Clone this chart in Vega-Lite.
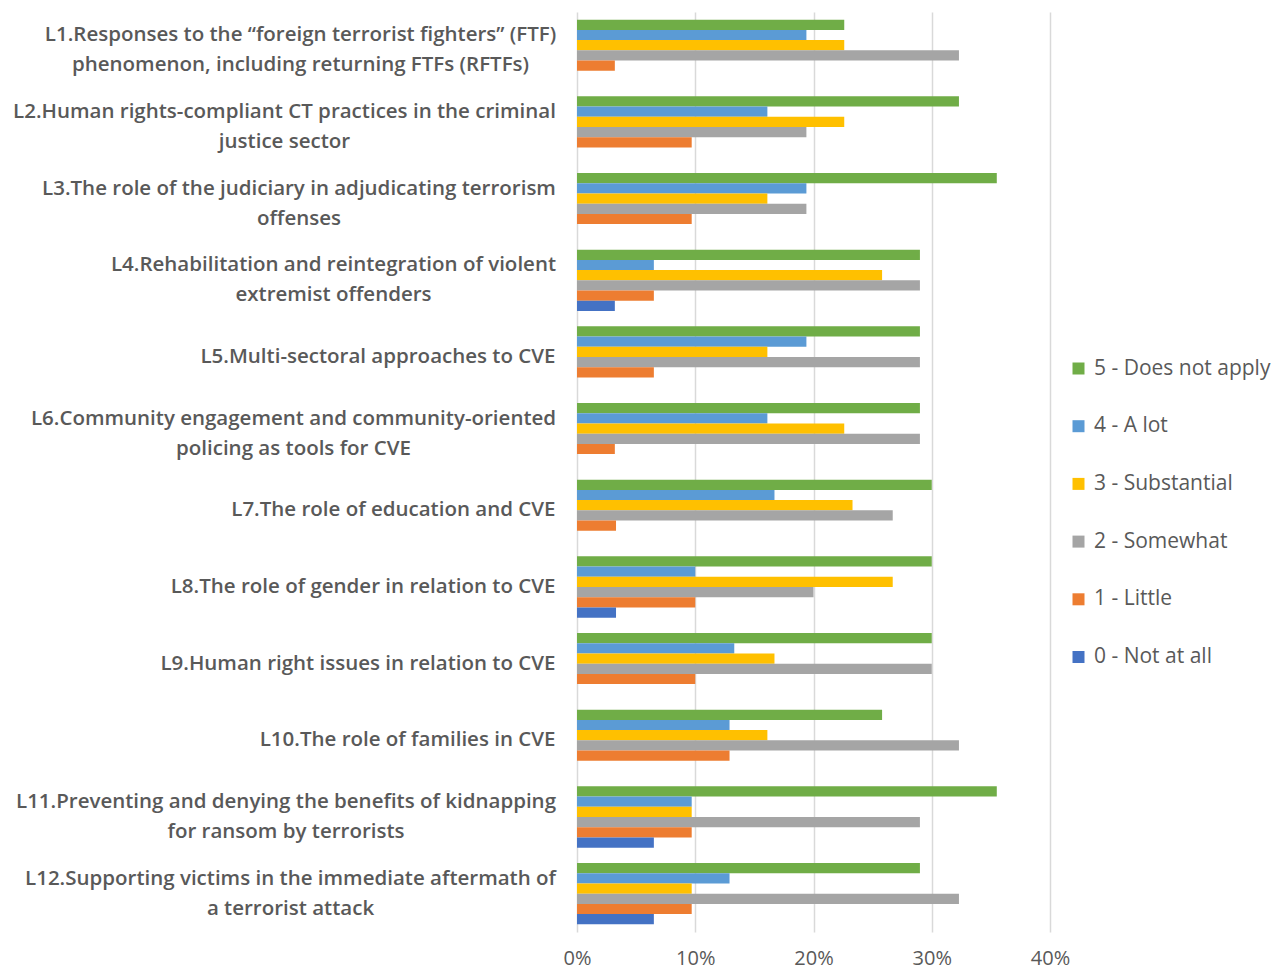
{
  "$schema": "https://vega.github.io/schema/vega-lite/v6.json",
  "width": 473,
  "height": 920,
  "autosize": {"type": "pad"},
  "padding": {"left": 5, "top": 12, "right": 5, "bottom": 0},
  "background": "white",
  "datasets": {
    "labels": [
      {"q": "L1", "label": "L1.Responses to the “foreign terrorist fighters” (FTF)\nphenomenon, including returning FTFs (RFTFs)"},
      {"q": "L2", "label": "L2.Human rights-compliant CT practices in the criminal\njustice sector"},
      {"q": "L3", "label": "L3.The role of the judiciary in adjudicating terrorism\noffenses"},
      {"q": "L4", "label": "L4.Rehabilitation and reintegration of violent\nextremist offenders"},
      {"q": "L5", "label": "L5.Multi-sectoral approaches to CVE"},
      {"q": "L6", "label": "L6.Community engagement and community-oriented\npolicing as tools for CVE"},
      {"q": "L7", "label": "L7.The role of education and CVE"},
      {"q": "L8", "label": "L8.The role of gender in relation to CVE"},
      {"q": "L9", "label": "L9.Human right issues in relation to CVE"},
      {"q": "L10", "label": "L10.The role of families in CVE"},
      {"q": "L11", "label": "L11.Preventing and denying the benefits of kidnapping\nfor ransom by terrorists"},
      {"q": "L12", "label": "L12.Supporting victims in the immediate aftermath of\na terrorist attack"}
    ],
    "answers": [
      {"q": "L1", "level": "5 - Does not apply", "share": 0.226},
      {"q": "L1", "level": "4 - A lot", "share": 0.194},
      {"q": "L1", "level": "3 - Substantial", "share": 0.226},
      {"q": "L1", "level": "2 - Somewhat", "share": 0.323},
      {"q": "L1", "level": "1 - Little", "share": 0.032},
      {"q": "L2", "level": "5 - Does not apply", "share": 0.323},
      {"q": "L2", "level": "4 - A lot", "share": 0.161},
      {"q": "L2", "level": "3 - Substantial", "share": 0.226},
      {"q": "L2", "level": "2 - Somewhat", "share": 0.194},
      {"q": "L2", "level": "1 - Little", "share": 0.097},
      {"q": "L3", "level": "5 - Does not apply", "share": 0.355},
      {"q": "L3", "level": "4 - A lot", "share": 0.194},
      {"q": "L3", "level": "3 - Substantial", "share": 0.161},
      {"q": "L3", "level": "2 - Somewhat", "share": 0.194},
      {"q": "L3", "level": "1 - Little", "share": 0.097},
      {"q": "L4", "level": "5 - Does not apply", "share": 0.29},
      {"q": "L4", "level": "4 - A lot", "share": 0.065},
      {"q": "L4", "level": "3 - Substantial", "share": 0.258},
      {"q": "L4", "level": "2 - Somewhat", "share": 0.29},
      {"q": "L4", "level": "1 - Little", "share": 0.065},
      {"q": "L4", "level": "0 - Not at all", "share": 0.032},
      {"q": "L5", "level": "5 - Does not apply", "share": 0.29},
      {"q": "L5", "level": "4 - A lot", "share": 0.194},
      {"q": "L5", "level": "3 - Substantial", "share": 0.161},
      {"q": "L5", "level": "2 - Somewhat", "share": 0.29},
      {"q": "L5", "level": "1 - Little", "share": 0.065},
      {"q": "L6", "level": "5 - Does not apply", "share": 0.29},
      {"q": "L6", "level": "4 - A lot", "share": 0.161},
      {"q": "L6", "level": "3 - Substantial", "share": 0.226},
      {"q": "L6", "level": "2 - Somewhat", "share": 0.29},
      {"q": "L6", "level": "1 - Little", "share": 0.032},
      {"q": "L7", "level": "5 - Does not apply", "share": 0.3},
      {"q": "L7", "level": "4 - A lot", "share": 0.167},
      {"q": "L7", "level": "3 - Substantial", "share": 0.233},
      {"q": "L7", "level": "2 - Somewhat", "share": 0.267},
      {"q": "L7", "level": "1 - Little", "share": 0.033},
      {"q": "L8", "level": "5 - Does not apply", "share": 0.3},
      {"q": "L8", "level": "4 - A lot", "share": 0.1},
      {"q": "L8", "level": "3 - Substantial", "share": 0.267},
      {"q": "L8", "level": "2 - Somewhat", "share": 0.2},
      {"q": "L8", "level": "1 - Little", "share": 0.1},
      {"q": "L8", "level": "0 - Not at all", "share": 0.033},
      {"q": "L9", "level": "5 - Does not apply", "share": 0.3},
      {"q": "L9", "level": "4 - A lot", "share": 0.133},
      {"q": "L9", "level": "3 - Substantial", "share": 0.167},
      {"q": "L9", "level": "2 - Somewhat", "share": 0.3},
      {"q": "L9", "level": "1 - Little", "share": 0.1},
      {"q": "L10", "level": "5 - Does not apply", "share": 0.258},
      {"q": "L10", "level": "4 - A lot", "share": 0.129},
      {"q": "L10", "level": "3 - Substantial", "share": 0.161},
      {"q": "L10", "level": "2 - Somewhat", "share": 0.323},
      {"q": "L10", "level": "1 - Little", "share": 0.129},
      {"q": "L11", "level": "5 - Does not apply", "share": 0.355},
      {"q": "L11", "level": "4 - A lot", "share": 0.097},
      {"q": "L11", "level": "3 - Substantial", "share": 0.097},
      {"q": "L11", "level": "2 - Somewhat", "share": 0.29},
      {"q": "L11", "level": "1 - Little", "share": 0.097},
      {"q": "L11", "level": "0 - Not at all", "share": 0.065},
      {"q": "L12", "level": "5 - Does not apply", "share": 0.29},
      {"q": "L12", "level": "4 - A lot", "share": 0.129},
      {"q": "L12", "level": "3 - Substantial", "share": 0.097},
      {"q": "L12", "level": "2 - Somewhat", "share": 0.323},
      {"q": "L12", "level": "1 - Little", "share": 0.097},
      {"q": "L12", "level": "0 - Not at all", "share": 0.065}
    ]
  },
  "data": {"name": "answers"},
  "transform": [
    {"lookup": "q", "from": {"data": {"name": "labels"}, "key": "q", "fields": ["label"]}}
  ],
  "mark": {"type": "bar"},
  "encoding": {
    "y": {
      "field": "label",
      "type": "nominal",
      "sort": null,
      "scale": {"paddingInner": 0.2, "paddingOuter": 0.1},
      "axis": {
        "title": null,
        "domain": false,
        "ticks": false,
        "labelExpr": "split(datum.label, '\\n')",
        "labelFont": "Open Sans",
        "labelFontWeight": 600,
        "labelFontSize": 20.5,
        "labelLineHeight": 30,
        "labelColor": "#595959",
        "labelAlign": {"condition": {"test": "indexof(datum.value, '\\n') >= 0", "value": "center"}, "value": "right"},
        "labelPadding": {
          "condition": [
            {"test": "indexof(datum.value, 'L1.') === 0", "value": 277},
            {"test": "indexof(datum.value, 'L2.') === 0", "value": 293},
            {"test": "indexof(datum.value, 'L3.') === 0", "value": 278.5},
            {"test": "indexof(datum.value, 'L4.') === 0", "value": 244},
            {"test": "indexof(datum.value, 'L6.') === 0", "value": 284},
            {"test": "indexof(datum.value, 'L11.') === 0", "value": 291.5},
            {"test": "indexof(datum.value, 'L12.') === 0", "value": 287}
          ],
          "value": 22
        },
        "labelLimit": 700,
        "labelOffset": {"condition": {"test": "indexof(datum.value, '\\n') >= 0", "value": -15}, "value": 0},
        "minExtent": 572,
        "maxExtent": 572
      }
    },
    "yOffset": {
      "field": "level",
      "type": "nominal",
      "scale": {
        "domain": ["5 - Does not apply", "4 - A lot", "3 - Substantial", "2 - Somewhat", "1 - Little", "0 - Not at all"],
        "paddingInner": 0,
        "paddingOuter": 0
      }
    },
    "x": {
      "field": "share",
      "type": "quantitative",
      "scale": {"domain": [0, 0.4], "nice": false},
      "axis": {
        "title": null,
        "format": ".0%",
        "values": [0, 0.1, 0.2, 0.3, 0.4],
        "domain": false,
        "ticks": false,
        "tickSize": 0,
        "grid": true,
        "gridColor": "#D9D9D9",
        "gridWidth": 1.5,
        "labelFlush": false,
        "labelFont": "Open Sans",
        "labelFontSize": 20,
        "labelColor": "#595959",
        "labelPadding": 16
      }
    },
    "color": {
      "field": "level",
      "type": "nominal",
      "scale": {
        "domain": ["5 - Does not apply", "4 - A lot", "3 - Substantial", "2 - Somewhat", "1 - Little", "0 - Not at all"],
        "range": ["#70AD47", "#5B9BD5", "#FFC000", "#A5A5A5", "#ED7D31", "#4472C4"]
      },
      "legend": {
        "title": null,
        "orient": "none",
        "legendX": 491,
        "legendY": 346,
        "padding": 0,
        "symbolType": "square",
        "symbolSize": 144,
        "symbolStrokeWidth": 0,
        "labelFont": "Open Sans",
        "labelFontSize": 21,
        "labelColor": "#595959",
        "labelOffset": 5,
        "rowPadding": 35.7,
        "labelLimit": 300
      }
    }
  },
  "config": {
    "view": {"stroke": null}
  }
}
